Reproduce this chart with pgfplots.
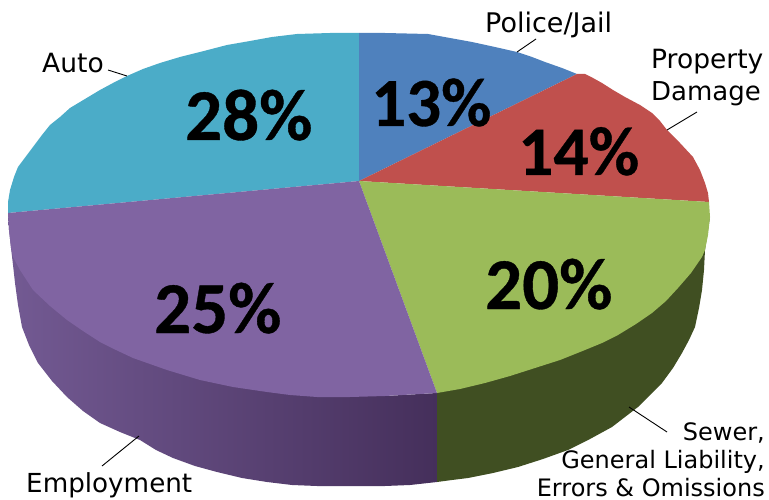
\documentclass[border=0pt]{standalone}
\usepackage{fontspec}
\setmainfont{DejaVu Sans}
\newfontfamily\pct[BoldFeatures={FakeBold=0.5}]{Carlito}
\usepackage{pgfplots}
\pgfplotsset{compat=1.18}
\definecolor{cauto}{HTML}{4BACC8}
\definecolor{cpolice}{HTML}{4F81BD}
\definecolor{cprop}{HTML}{C0504D}
\definecolor{csewer}{HTML}{9BBB59}
\definecolor{cemp}{HTML}{8064A2}
\definecolor{sideA}{HTML}{735A93}
\definecolor{sideB}{HTML}{5F4777}
\definecolor{sideC}{HTML}{452F5B}
\definecolor{sideG}{HTML}{404F22}
\newcommand{\lab}[4]{\node[anchor=#1,inner sep=0pt,font=\fontsize{#4}{30}\selectfont] at (axis cs:#2) {#3};}
\newcommand{\pc}[3]{\node[anchor=base west,inner sep=0pt,font=\fontsize{#3}{72}\selectfont\pct\bfseries] at (axis cs:#1) {#2};}
\begin{document}
\begin{tikzpicture}
\begin{axis}[
  scale only axis, width=769pt, height=500pt,
  xmin=0, xmax=769, ymin=0, ymax=500, y dir=reverse,
  axis lines=none, clip=false]
\path (axis cs:0,0) rectangle (axis cs:769,500);
% side walls
\addplot[draw=none, left color=sideA, middle color=sideB, right color=sideC] coordinates {
 (8,213)(9,230)(11,248)(13,265)(15,283)(18,305)(22,327)(29,345)(38,363)(52,381)(67,397)(83,411)(100,423)(120,432)(140,440)(156,450)(173,458)(195,466)(217,472)(242,478)(267,482)(292,485)(317,486)(350,486)(385,486)(410,485)(437,482)(437,393)(385,396)(200,300)} -- cycle;
\addplot[draw=none, fill=sideG] coordinates {
 (437,482)(452,480)(468,478)(493,473)(518,467)(543,459)(568,450)(590,439)(612,427)(625,417)(638,407)(650,395)(662,383)(673,368)(682,353)(689,340)(695,327)(699,308)(702,290)(704,270)(705,250)(710,217)(600,300)(437,393)} -- cycle;
% top faces
\addplot[draw=none, fill=cauto] coordinates {
 (359,181)(359,33)(330,33)(297,34)(272,37)(250,41)(227,45)(200,52)(180,57)(160,63)(143,69)(127,76)(113,83)(100,90)(85,99)(70,108)(60,117)(50,125)(42,135)(33,147)(27,155)(18,167)(14,177)(10,190)(8,202)(8,213)} -- cycle;
\addplot[draw=none, fill=cpolice] coordinates {
 (359,181)(359,33)(385,33)(428,34)(450,38)(472,42)(495,47)(517,52)(532,57)(545,62)(562,68)(577,74)} -- cycle;
\addplot[draw=none, fill=cprop] coordinates {
 (359,181)(577,74)(585,74)(593,78)(602,83)(613,90)(625,97)(640,105)(652,113)(660,121)(667,130)(680,143)(693,157)(700,170)(705,183)(708,193)(709,202)} -- cycle;
\addplot[draw=none, fill=csewer] coordinates {
 (359,181)(709,202)(710,217)(708,235)(705,250)(702,257)(691,273)(678,288)(666,301)(652,313)(636,324)(618,335)(602,343)(585,350)(560,360)(535,368)(510,376)(485,383)(460,389)(437,393)} -- cycle;
\addplot[draw=none, fill=cemp] coordinates {
 (359,181)(437,393)(385,396)(350,397)(317,397)(290,395)(267,392)(233,387)(200,380)(167,370)(150,364)(133,358)(116,350)(100,342)(83,331)(67,320)(50,306)(33,290)(20,270)(13,257)(11,248)(9,230)(8,213)} -- cycle;
% leader lines
\addplot[black, line width=0.9pt] coordinates {(108,70)(127,76)};
\addplot[black, line width=0.9pt] coordinates {(536,39)(517,52)};
\addplot[black, line width=0.9pt] coordinates {(697,112)(667,130)};
\addplot[black, line width=0.9pt] coordinates {(102,466)(139,436)};
\addplot[black, line width=0.9pt] coordinates {(667,432)(629,407)};
% labels
\lab{base west}{42,73}{Auto}{26.5}
\lab{base west}{485,33}{Police/Jail}{27}
\lab{base west}{651,69}{Property}{26.5}
\lab{base west}{651,101}{Damage}{26}
\lab{base west}{26,492}{Employment}{26.2}
\lab{base east}{765,440}{Sewer,}{24}
\lab{base east}{765,468}{General Liability,}{24}
\lab{base east}{765,496}{Errors \& Omissions}{24}
\pc{185,140}{28\%}{73}
\pc{371,126}{13\%}{69}
\pc{518,175}{14\%}{69.5}
\pc{154,333}{25\%}{73}
\pc{485,309}{20\%}{73}
\end{axis}
\end{tikzpicture}
\end{document}
